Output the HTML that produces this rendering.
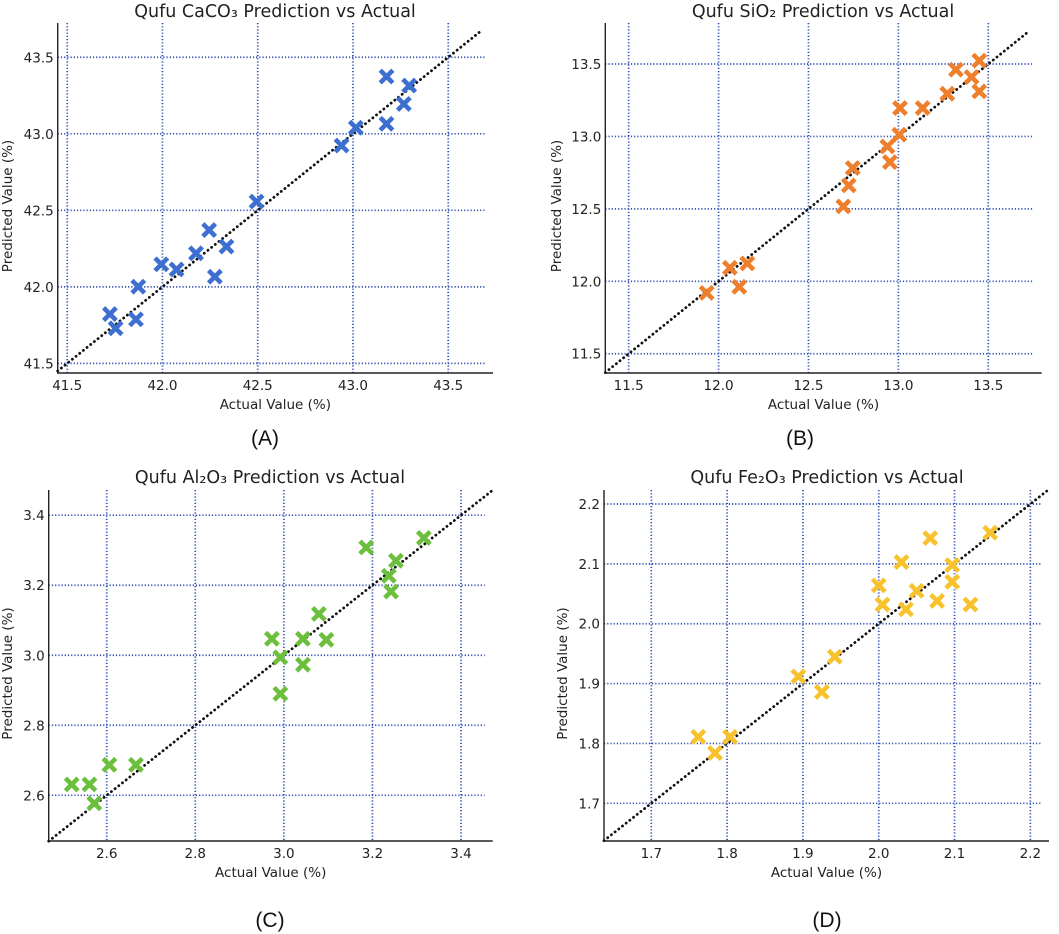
<!DOCTYPE html>
<html><head><meta charset="utf-8"><style>
html,body{margin:0;padding:0;background:#fff;}
svg{display:block;font-family:"DejaVu Sans","Liberation Sans",sans-serif;}
</style></head><body>
<svg id="fig" width="1059" height="934" viewBox="0 0 1059 934" xmlns="http://www.w3.org/2000/svg"></svg>
<script>
// Panel A – CaCO3
const caActual = [41.724,41.754,41.861,41.873,41.994,42.074,42.176,42.245,42.275,42.336,42.494,42.94,43.015,43.176,43.176,43.267,43.295];
const caPred   = [41.822,41.729,41.788,42.001,42.147,42.114,42.219,42.371,42.066,42.263,42.557,42.923,43.040,43.374,43.065,43.195,43.315];
const caTicks  = [41.5,42.0,42.5,43.0,43.5];
// Panel B – SiO2
const siActual = [11.934,12.063,12.115,12.16,12.694,12.724,12.746,12.939,12.953,13.005,13.009,13.135,13.272,13.320,13.407,13.45,13.45];
const siPred   = [11.92,12.093,11.962,12.123,12.517,12.662,12.782,12.931,12.823,13.012,13.196,13.196,13.295,13.461,13.410,13.523,13.311];
const siTicks  = [11.5,12.0,12.5,13.0,13.5];
// Panel C – Al2O3
const alActual = [2.521,2.561,2.572,2.606,2.666,2.973,2.992,2.992,3.043,3.043,3.079,3.096,3.186,3.237,3.242,3.253,3.316];
const alPred   = [2.631,2.631,2.577,2.687,2.687,3.047,2.994,2.890,3.047,2.973,3.118,3.044,3.308,3.227,3.182,3.270,3.335];
const alTicks  = [2.6,2.8,3.0,3.2,3.4];
// Panel D – Fe2O3
const feActual = [1.762,1.784,1.804,1.894,1.925,1.942,2.0,2.005,2.030,2.036,2.050,2.068,2.077,2.097,2.097,2.121,2.147];
const fePred   = [1.811,1.784,1.811,1.912,1.886,1.945,2.064,2.032,2.103,2.024,2.055,2.143,2.038,2.098,2.070,2.032,2.152];
const feTicks  = [1.7,1.8,1.9,2.0,2.1,2.2];

const NS = "http://www.w3.org/2000/svg";
const fig = document.getElementById('fig');
function mk(tag, attrs, parent){
  const e = document.createElementNS(NS, tag);
  for (const k in attrs) e.setAttribute(k, attrs[k]);
  (parent||fig).appendChild(e);
  return e;
}

const panels = [
  {key:'caco3', title:'Qufu CaCO\u2083 Prediction vs Actual', color:'#3d6fd1', xs:caActual, ys:caPred, ticks:caTicks, dec:1,
   L:57.7, R:493, T:23, B:373, xmin:41.45, xmax:43.735, ymin:41.437, ymax:43.724, lineEnd:43.68,
   titleX:275, titleY:17, ylabX:8, label:'(A)', labX:265, labY:445},
  {key:'sio2', title:'Qufu SiO\u2082 Prediction vs Actual', color:'#ee7f2d', xs:siActual, ys:siPred, ticks:siTicks, dec:1,
   L:605.3, R:1041.7, T:23, B:373, xmin:11.370, xmax:13.797, ymin:11.367, ymax:13.783, lineEnd:13.731,
   titleX:823, titleY:17, ylabX:557, label:'(B)', labX:800, labY:445},
  {key:'al2o3', title:'Qufu Al\u2082O\u2083 Prediction vs Actual', color:'#6cbf3c', xs:alActual, ys:alPred, ticks:alTicks, dec:1,
   L:48.7, R:492.7, T:490, B:841, xmin:2.469, xmax:3.4715, ymin:2.4695, ymax:3.472, lineEnd:3.4715,
   titleX:270, titleY:483, ylabX:8, label:'(C)', labX:270, labY:927},
  {key:'fe2o3', title:'Qufu Fe\u2082O\u2083 Prediction vs Actual', color:'#f8c22c', xs:feActual, ys:fePred, ticks:feTicks, dec:1,
   L:604, R:1049, T:490, B:841, xmin:1.6376, xmax:2.2246, ymin:1.637, ymax:2.2234, lineEnd:2.2246,
   titleX:827, titleY:483, ylabX:563, label:'(D)', labX:827, labY:927}
];

panels.forEach(p => {
  const g = mk('g', {});
  
  
  const sx = v => p.L + (v - p.xmin) / (p.xmax - p.xmin) * (p.R - p.L);
  const sy = v => p.B - (v - p.ymin) / (p.ymax - p.ymin) * (p.B - p.T);

  const grid = mk('g', {stroke:'#2f4fb0', 'stroke-width':1.7, 'stroke-dasharray':'1.2 2', fill:'none'}, g);
  
  
  p.ticks.forEach(t => {
    const x = sx(t), y = sy(t);
    if (x > p.L + 1 && x < p.R) mk('line', {x1:x, x2:x, y1:p.T, y2:p.B}, grid);
    if (y < p.B - 1 && y > p.T) mk('line', {x1:p.L, x2:p.R - 8, y1:y, y2:y}, grid);
  });

  const ax = mk('path', {d:`M${p.L},${p.T} L${p.L},${p.B} L${p.R},${p.B}`, stroke:'#222', 'stroke-width':1.4, fill:'none'}, g);
  
  

  p.ticks.forEach(t => {
    const x = sx(t), y = sy(t);
    const tx = mk('text', {x:x, y:p.B + 17, 'font-size':13.5, 'text-anchor':'middle', fill:'#222'}, g);
    tx.textContent = t.toFixed(p.dec);
    
    
    const ty = mk('text', {x:p.L - 4, y:y + 5, 'font-size':13.5, 'text-anchor':'end', fill:'#222'}, g);
    ty.textContent = t.toFixed(p.dec);
    
    
  });

  const d = mk('line', {x1:sx(p.xmin), y1:sy(p.xmin), x2:sx(p.lineEnd), y2:sy(p.lineEnd), stroke:'#111', 'stroke-width':2.8, 'stroke-dasharray':'0.1 4.6', 'stroke-linecap':'round'}, g);
  
  

  p.xs.forEach((v, i) => {
    const cx = sx(v), cy = sy(p.ys[i]), s = 6.3;
    const m = mk('path', {d:`M${cx-s},${cy-s} L${cx+s},${cy+s} M${cx-s},${cy+s} L${cx+s},${cy-s}`, stroke:p.color, 'stroke-width':4.6, fill:'none'}, g);
    
    
  });

  const tt = mk('text', {x:p.titleX, y:p.titleY, 'font-size':17.5, 'text-anchor':'middle', fill:'#222'}, g);
  tt.textContent = p.title;
  
  
  const xl = mk('text', {x:(p.L + p.R) / 2, y:p.B + 36, 'font-size':13.5, 'text-anchor':'middle', fill:'#222'}, g);
  xl.textContent = 'Actual Value (%)';
  
  
  const yc = (p.T + p.B) / 2 + 8;
  const yl = mk('text', {x:p.ylabX + 4, y:yc, 'font-size':13.5, 'text-anchor':'middle', fill:'#222', transform:`rotate(-90 ${p.ylabX + 4} ${yc})`}, g);
  yl.textContent = 'Predicted Value (%)';
  
  
  const pl = mk('text', {x:p.labX, y:p.labY, 'font-size':21, 'text-anchor':'middle', fill:'#111', 'font-family':'Liberation Sans, sans-serif'}, g);
  pl.textContent = p.label;
  
  
});
</script>
</body></html>
